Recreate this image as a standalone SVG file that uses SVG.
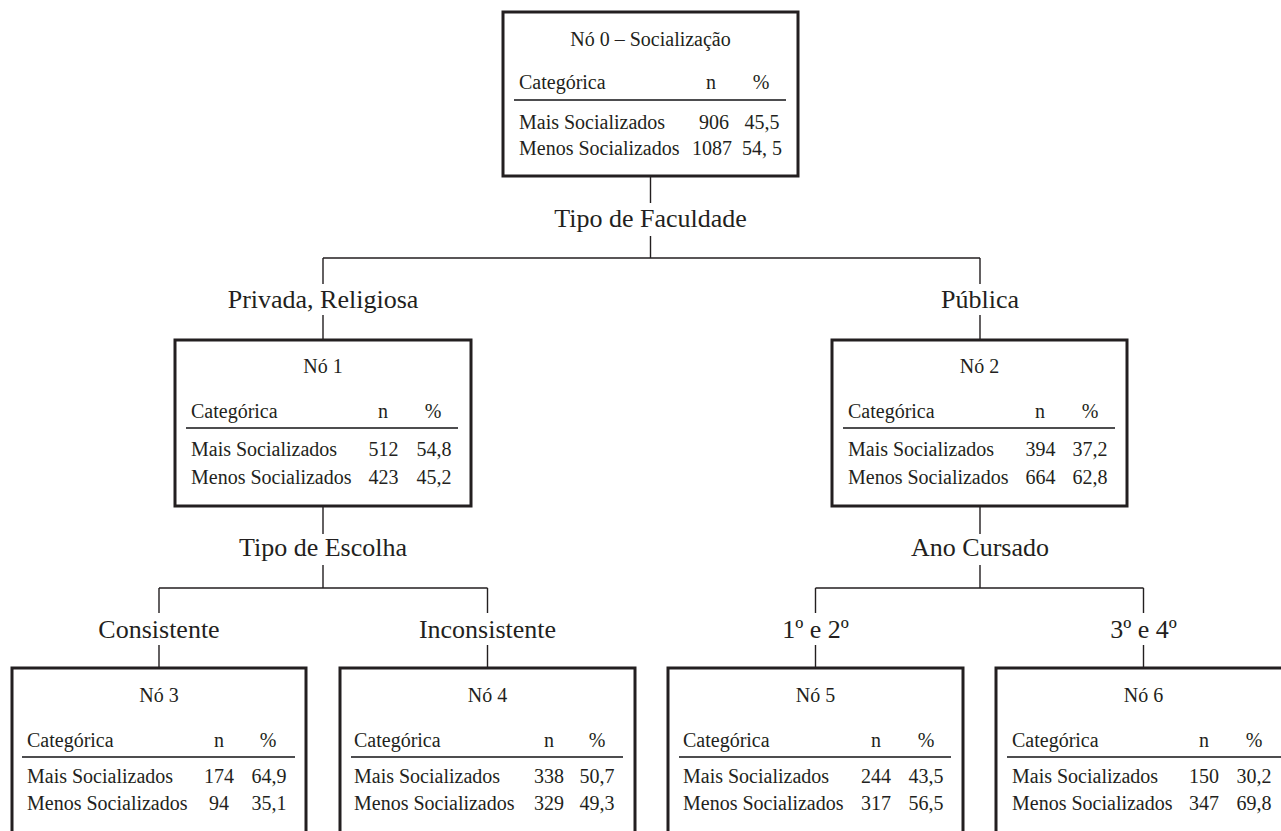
<svg xmlns="http://www.w3.org/2000/svg" width="1281" height="831" viewBox="0 0 1281 831">
<style>
.box{fill:#fff;stroke:#231f20;stroke-width:3}
.rule{stroke:#4d4d4f;stroke-width:2}
.con{stroke:#231f20;stroke-width:1.4;fill:none}
text{font-family:"Liberation Serif","Times New Roman",serif;fill:#231f20}
.t{font-size:20px}
.m{text-anchor:middle}
.lab{font-size:26px;text-anchor:middle}
</style>
<rect width="1281" height="831" fill="#fff"/>
<g id="connectors">
<path class="con" d="M650.5,176V203M650.5,236V258M323,258H980M323,258V284M323,315V340M980,258V284M980,315V340"/>
<path class="con" d="M323,506V534M323,565V588M159,588H487.5M159,588V613M159,645V668M487.5,588V613M487.5,645V668"/>
<path class="con" d="M980,506V534M980,565V588M815.5,588H1143.5M815.5,588V613M815.5,645V668M1143.5,588V613M1143.5,645V668"/>
</g>
<g id="edge-labels">
<text class="lab" x="650.5" y="227">Tipo de Faculdade</text>
<text class="lab" x="323" y="308">Privada, Religiosa</text>
<text class="lab" x="980" y="308">Pública</text>
<text class="lab" x="323" y="556">Tipo de Escolha</text>
<text class="lab" x="980" y="556">Ano Cursado</text>
<text class="lab" x="159" y="638">Consistente</text>
<text class="lab" x="487.5" y="638">Inconsistente</text>
<text class="lab" x="815.5" y="638">1º e 2º</text>
<text class="lab" x="1143.5" y="638">3º e 4º</text>
</g>
<g id="node0">
<rect class="box" x="503" y="12" width="295" height="164"/>
<text class="t m" x="650.5" y="46">Nó 0 – Socialização</text>
<text class="t" x="519" y="89">Categórica</text>
<text class="t m" x="711" y="89">n</text>
<text class="t m" x="761" y="89">%</text>
<line class="rule" x1="514" y1="100" x2="786" y2="100"/>
<text class="t" x="519" y="129">Mais Socializados</text>
<text class="t m" x="714" y="129">906</text>
<text class="t m" x="762" y="129">45,5</text>
<text class="t" x="519" y="155">Menos Socializados</text>
<text class="t m" x="712" y="155">1087</text>
<text class="t m" x="762" y="155">54, 5</text>
</g>
<g id="node1">
<rect class="box" x="175" y="340" width="296" height="166"/>
<text class="t m" x="323" y="373">Nó 1</text>
<text class="t" x="191" y="418">Categórica</text>
<text class="t m" x="383" y="418">n</text>
<text class="t m" x="433" y="418">%</text>
<line class="rule" x1="186" y1="428" x2="458" y2="428"/>
<text class="t" x="191" y="456">Mais Socializados</text>
<text class="t m" x="383.5" y="456">512</text>
<text class="t m" x="434" y="456">54,8</text>
<text class="t" x="191" y="484">Menos Socializados</text>
<text class="t m" x="383.5" y="484">423</text>
<text class="t m" x="434" y="484">45,2</text>
</g>
<g id="node2">
<rect class="box" x="832" y="340" width="295" height="166"/>
<text class="t m" x="979.5" y="373">Nó 2</text>
<text class="t" x="848" y="418">Categórica</text>
<text class="t m" x="1040" y="418">n</text>
<text class="t m" x="1090" y="418">%</text>
<line class="rule" x1="843" y1="428" x2="1115" y2="428"/>
<text class="t" x="848" y="456">Mais Socializados</text>
<text class="t m" x="1040.5" y="456">394</text>
<text class="t m" x="1090" y="456">37,2</text>
<text class="t" x="848" y="484">Menos Socializados</text>
<text class="t m" x="1040.5" y="484">664</text>
<text class="t m" x="1090" y="484">62,8</text>
</g>
<g id="node3">
<rect class="box" x="12" y="668" width="294" height="200"/>
<text class="t m" x="159" y="702">Nó 3</text>
<text class="t" x="27" y="747">Categórica</text>
<text class="t m" x="219" y="747">n</text>
<text class="t m" x="268" y="747">%</text>
<line class="rule" x1="22" y1="757" x2="295" y2="757"/>
<text class="t" x="27" y="783">Mais Socializados</text>
<text class="t m" x="219" y="783">174</text>
<text class="t m" x="269" y="783">64,9</text>
<text class="t" x="27" y="810">Menos Socializados</text>
<text class="t m" x="219" y="810">94</text>
<text class="t m" x="269" y="810">35,1</text>
</g>
<g id="node4">
<rect class="box" x="340" y="668" width="295" height="200"/>
<text class="t m" x="487.5" y="702">Nó 4</text>
<text class="t" x="354" y="747">Categórica</text>
<text class="t m" x="549" y="747">n</text>
<text class="t m" x="597" y="747">%</text>
<line class="rule" x1="351" y1="757" x2="623" y2="757"/>
<text class="t" x="354" y="783">Mais Socializados</text>
<text class="t m" x="549" y="783">338</text>
<text class="t m" x="597" y="783">50,7</text>
<text class="t" x="354" y="810">Menos Socializados</text>
<text class="t m" x="549" y="810">329</text>
<text class="t m" x="597" y="810">49,3</text>
</g>
<g id="node5">
<rect class="box" x="668" y="668" width="295" height="200"/>
<text class="t m" x="815.5" y="702">Nó 5</text>
<text class="t" x="683" y="747">Categórica</text>
<text class="t m" x="876" y="747">n</text>
<text class="t m" x="926" y="747">%</text>
<line class="rule" x1="679" y1="757" x2="951" y2="757"/>
<text class="t" x="683" y="783">Mais Socializados</text>
<text class="t m" x="876" y="783">244</text>
<text class="t m" x="926" y="783">43,5</text>
<text class="t" x="683" y="810">Menos Socializados</text>
<text class="t m" x="876" y="810">317</text>
<text class="t m" x="926" y="810">56,5</text>
</g>
<g id="node6">
<rect class="box" x="996" y="668" width="295" height="200"/>
<text class="t m" x="1143.5" y="702">Nó 6</text>
<text class="t" x="1012" y="747">Categórica</text>
<text class="t m" x="1204" y="747">n</text>
<text class="t m" x="1254" y="747">%</text>
<line class="rule" x1="1007" y1="757" x2="1281" y2="757"/>
<text class="t" x="1012" y="783">Mais Socializados</text>
<text class="t m" x="1204" y="783">150</text>
<text class="t m" x="1254" y="783">30,2</text>
<text class="t" x="1012" y="810">Menos Socializados</text>
<text class="t m" x="1204" y="810">347</text>
<text class="t m" x="1254" y="810">69,8</text>
</g>
</svg>
